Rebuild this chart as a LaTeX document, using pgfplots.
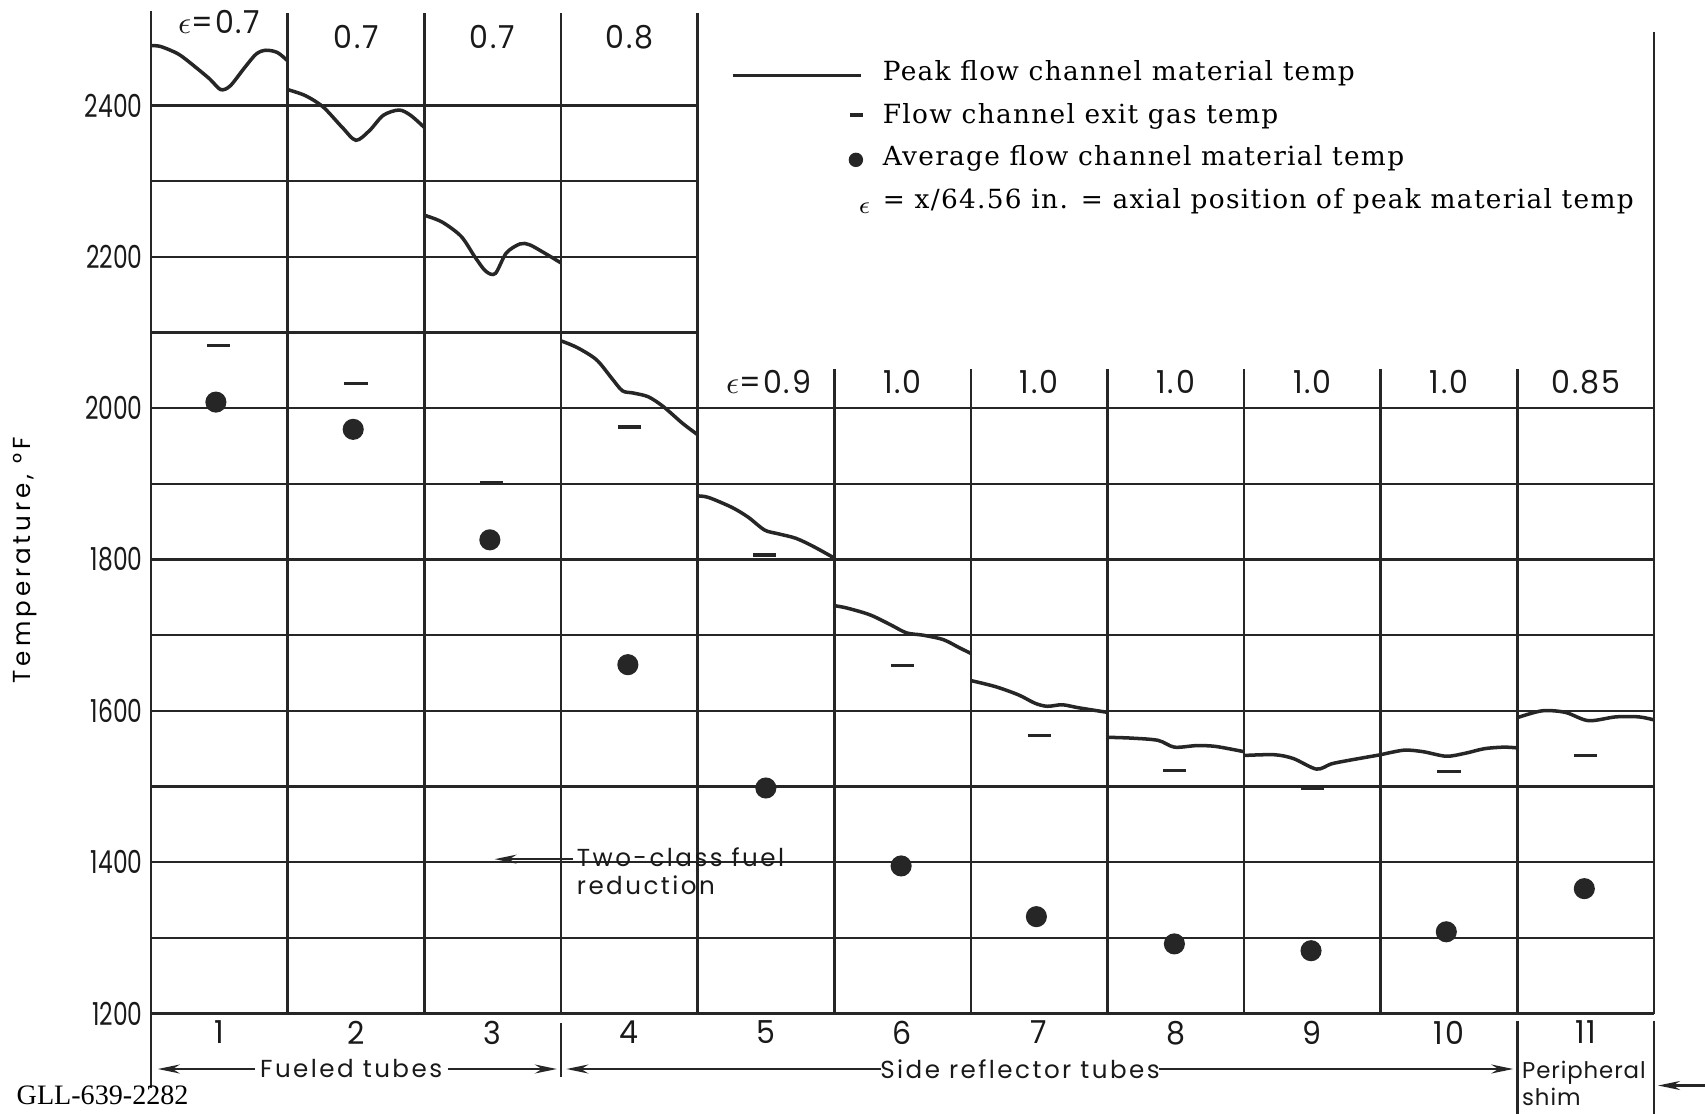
\documentclass[border=0pt]{standalone}
\usepackage{fontspec}
\usepackage{pgfplots}
\pgfplotsset{compat=1.18}
\usetikzlibrary{arrows.meta}
\setmainfont{DejaVu Serif}
\newfontfamily\gothic[FakeStretch=0.74]{Poppins}
\newfontfamily\gothicw[FakeStretch=0.95,LetterSpace=6]{Poppins}
\newfontfamily\lettering[LetterSpace=10]{Poppins}
\newfontfamily\letteringn[LetterSpace=4]{Poppins}
\newfontfamily\ylab[LetterSpace=16]{Poppins}
\newfontfamily\legfont[LetterSpace=5]{DejaVu Serif}
\newfontfamily\gllfont{Liberation Serif}
\pgfplotsset{peak/.style={black!85, line width=1pt, smooth, mark=none, forget plot}}

\begin{document}
\begin{tikzpicture}[
  gridl/.style={black!85, line width=0.7pt},
  vl/.style={black!85, line width=0.75pt},
  arr/.style={black!85, line width=0.6pt, -{Stealth[length=2.2mm,width=0.9mm]}},
  lab/.style={font=\lettering\fontsize{7}{8}\selectfont, text=black!90},
  eps/.style={font=\gothicw\fontsize{9}{9}\selectfont, text=black!90},
]
\path[use as bounding box] (-15.1mm,-9.95mm) rectangle (155.4mm,101.35mm);
\begin{axis}[
  scale only axis, width=150.3mm, height=100.26mm,
  xmin=0.5, xmax=11.5, ymin=1200, ymax=2525,
  axis x line*=bottom, axis y line*=left,
  axis line style={black!85, line width=0.75pt, -},
  xtick={1,2,3,4,5,6,7,8,9,10,11},
  xticklabels={1,2,3,4,5,6,7,8,9,10,11},
  ytick={1200,1400,1600,1800,2000,2200,2400},
  yticklabels={1200,1400,1600,1800,2000,2200,2400},
  tick style={draw=none},
  yticklabel style={font=\gothic\fontsize{9}{9}\selectfont, text=black!90, xshift=0.4mm},
  xticklabel style={font=\gothicw\fontsize{9}{9}\selectfont, text=black!90, yshift=0.5mm},
  ylabel={Temperature, °F},
  ylabel style={at={(axis description cs:-0.0835,0.452)}, anchor=center, font=\ylab\fontsize{7}{8}\selectfont},
  clip=false,
  legend cell align=left,
  legend style={at={(axis cs:4.742,2466)}, anchor=north west, draw=none, fill=none,
    inner sep=0pt, row sep=1.08mm,
    nodes={inner sep=0pt, text height=2.4mm, text depth=0.8mm},
    font=\legfont\fontsize{7.5}{9}\selectfont},
]
% grid
\draw[gridl] (axis cs:0.5,1300) -- (axis cs:11.5,1300);
\draw[gridl] (axis cs:0.5,1400) -- (axis cs:11.5,1400);
\draw[gridl] (axis cs:0.5,1500) -- (axis cs:11.5,1500);
\draw[gridl] (axis cs:0.5,1600) -- (axis cs:11.5,1600);
\draw[gridl] (axis cs:0.5,1700) -- (axis cs:11.5,1700);
\draw[gridl] (axis cs:0.5,1800) -- (axis cs:11.5,1800);
\draw[gridl] (axis cs:0.5,1900) -- (axis cs:11.5,1900);
\draw[gridl] (axis cs:0.5,2000) -- (axis cs:11.5,2000);
\draw[gridl] (axis cs:0.5,2100) -- (axis cs:4.5,2100);
\draw[gridl] (axis cs:0.5,2200) -- (axis cs:4.5,2200);
\draw[gridl] (axis cs:0.5,2300) -- (axis cs:4.5,2300);
\draw[gridl] (axis cs:0.5,2400) -- (axis cs:4.5,2400);
% column dividers
\draw[vl] (axis cs:1.5,1200) -- (axis cs:1.5,2522);
\draw[vl] (axis cs:2.5,1200) -- (axis cs:2.5,2522);
\draw[vl] (axis cs:3.5,1200) -- (axis cs:3.5,2522);
\draw[vl] (axis cs:4.5,1200) -- (axis cs:4.5,2522);
\draw[vl] (axis cs:5.5,1200) -- (axis cs:5.5,2052);
\draw[vl] (axis cs:6.5,1200) -- (axis cs:6.5,2052);
\draw[vl] (axis cs:7.5,1200) -- (axis cs:7.5,2052);
\draw[vl] (axis cs:8.5,1200) -- (axis cs:8.5,2052);
\draw[vl] (axis cs:9.5,1200) -- (axis cs:9.5,2052);
\draw[vl] (axis cs:10.5,1200) -- (axis cs:10.5,2052);
\draw[vl] (axis cs:11.5,1200) -- (axis cs:11.5,2497);
% below-axis separators
\draw[vl] (axis cs:0.5,1200) -- ([yshift=-7.4mm]axis cs:0.5,1200);
\draw[vl] ([yshift=-0.9mm]axis cs:3.5,1200) -- ([yshift=-6.3mm]axis cs:3.5,1200);
\draw[vl] ([yshift=-0.7mm]axis cs:10.5,1200) -- ([yshift=-10mm]axis cs:10.5,1200);
\draw[vl] ([yshift=-0.7mm]axis cs:11.5,1200) -- ([yshift=-10mm]axis cs:11.5,1200);

% legend
\addlegendimage{legend image code/.code={\path[draw=none,fill=none] (-15mm,-0.6mm) rectangle (0mm,0.6mm); \draw[black!85,line width=0.9pt] (-15mm,-0.35mm) -- (-2.2mm,-0.35mm);}}
\addlegendentry{Peak flow channel material temp}
\addlegendimage{legend image code/.code={\path[draw=none,fill=none] (-15mm,-0.6mm) rectangle (0mm,0.6mm); \draw[black!85,line width=0.9pt] (-3.3mm,0mm) -- (-2.0mm,0mm);}}
\addlegendentry{Flow channel exit gas temp}
\addlegendimage{legend image code/.code={\path[draw=none,fill=none] (-15mm,-0.6mm) rectangle (0mm,0.6mm); \fill[black!85] (-2.7mm,-0.2mm) circle (0.65mm);}}
\addlegendentry{Average flow channel material temp}
\addlegendimage{legend image code/.code={\path[draw=none,fill=none] (-15mm,-0.6mm) rectangle (0mm,0.6mm); \node[inner sep=0pt, font=\fontsize{7}{7}\selectfont] at (-2.5mm,-0.5mm) {$\epsilon$};}}
\addlegendentry{= x/64.56 in. = axial position of peak material temp}

% peak flow channel material temperature, one segment per tube
\addplot[peak] coordinates {(0.5,2479) (0.57,2478) (0.70,2468) (0.81,2453) (0.93,2435) (1.01,2421) (1.08,2426) (1.185,2450) (1.27,2468) (1.34,2473) (1.425,2470) (1.5,2459)};
\addplot[peak] coordinates {(1.5,2421) (1.63,2413) (1.76,2398) (1.90,2371) (2.0,2354) (2.10,2367) (2.20,2387) (2.315,2394) (2.40,2387) (2.5,2371)};
\addplot[peak] coordinates {(2.5,2255) (2.63,2246) (2.77,2227) (2.87,2200) (2.95,2181) (3.02,2178) (3.10,2205) (3.2,2217) (3.27,2216) (3.38,2205) (3.5,2192)};
\addplot[peak] coordinates {(3.5,2089) (3.62,2080) (3.76,2064) (3.87,2040) (3.95,2023) (4.03,2020) (4.14,2015) (4.25,2002) (4.39,1980) (4.5,1965)};
\addplot[peak] coordinates {(4.5,1884) (4.58,1882) (4.75,1869) (4.87,1856) (4.99,1839) (5.09,1834) (5.22,1828) (5.35,1817) (5.5,1802)};
\addplot[peak] coordinates {(5.5,1739) (5.59,1736) (5.76,1727) (5.91,1714) (6.03,1703) (6.15,1700) (6.30,1694) (6.42,1683) (6.5,1676)};
\addplot[peak] coordinates {(6.5,1640) (6.68,1632) (6.85,1621) (6.97,1610) (7.06,1606) (7.17,1608) (7.29,1604) (7.5,1598)};
\addplot[peak] coordinates {(7.5,1565) (7.67,1564) (7.87,1561) (7.99,1552) (8.15,1554) (8.29,1553) (8.5,1546)};
\addplot[peak] coordinates {(8.5,1541) (8.72,1542) (8.86,1537) (9.03,1523) (9.14,1530) (9.28,1535) (9.5,1542)};
\addplot[peak] coordinates {(9.5,1542) (9.67,1548) (9.81,1546) (9.98,1540) (10.12,1544) (10.26,1550) (10.4,1552) (10.5,1551)};
\addplot[peak] coordinates {(10.5,1591) (10.68,1600) (10.85,1598) (11.02,1587) (11.22,1592) (11.39,1592) (11.5,1588)};
% flow channel exit gas temperature
\addplot[only marks, black!85, mark=-, mark size=3.3pt, mark options={line width=0.9pt}, forget plot] coordinates {
 (0.995,2083) (2.0,2033) (2.99,1901) (4.0,1975) (4.99,1806) (6.0,1660) (7.0,1567) (7.99,1521) (9.0,1498) (10.0,1520) (11.0,1541)};
% average flow channel material temperature
\addplot[only marks, black!85, mark=*, mark size=2.8pt, forget plot] coordinates {
 (0.975,2008) (1.98,1972) (2.98,1826) (3.99,1661) (5.0,1498) (5.99,1395) (6.98,1328) (7.99,1292) (8.99,1283) (9.98,1308) (10.99,1365)};

% axial position labels
\node[eps] at (axis cs:1,2511) {$\epsilon$=0.7};
\node[eps] at (axis cs:2,2490) {0.7};
\node[eps] at (axis cs:3,2490) {0.7};
\node[eps] at (axis cs:4,2490) {0.8};
\node[eps] at (axis cs:5.02,2034) {$\epsilon$=0.9};
\node[eps] at (axis cs:6,2034) {1.0};
\node[eps] at (axis cs:7,2034) {1.0};
\node[eps] at (axis cs:8,2034) {1.0};
\node[eps] at (axis cs:9,2034) {1.0};
\node[eps] at (axis cs:10,2034) {1.0};
\node[eps] at (axis cs:11,2034) {0.85};

% annotation
\draw[arr] (axis cs:3.588,1404) -- (axis cs:3.015,1404);
\node[lab, anchor=north west, align=left, inner sep=0pt] at (axis cs:3.612,1420) {Two-class fuel\\reduction};

% tube groups
\draw[arr] ([yshift=-5.55mm]axis cs:1.264,1200) -- ([yshift=-5.55mm]axis cs:0.55,1200);
\node[lab] at ([yshift=-5.55mm]axis cs:1.965,1200) {Fueled tubes};
\draw[arr] ([yshift=-5.55mm]axis cs:2.673,1200) -- ([yshift=-5.55mm]axis cs:3.47,1200);
\draw[arr] ([yshift=-5.55mm]axis cs:5.84,1200) -- ([yshift=-5.55mm]axis cs:3.54,1200);
\node[lab] at ([yshift=-5.55mm]axis cs:6.86,1200) {Side reflector tubes};
\draw[arr] ([yshift=-5.55mm]axis cs:7.88,1200) -- ([yshift=-5.55mm]axis cs:10.47,1200);
\node[anchor=north west, align=left, inner sep=0pt, text=black!90, font=\letteringn\fontsize{6.5}{5.9}\selectfont] at ([yshift=-4.7mm]axis cs:10.53,1200) {Peripheral\\shim};
\draw[arr] ([yshift=-7.2mm]axis cs:11.87,1200) -- ([yshift=-7.2mm]axis cs:11.53,1200);
\end{axis}
\node[anchor=west, inner sep=0pt, font=\gllfont\fontsize{8}{9}\selectfont] at (-13.5mm,-8.2mm) {GLL-639-2282};
\end{tikzpicture}
\end{document}
